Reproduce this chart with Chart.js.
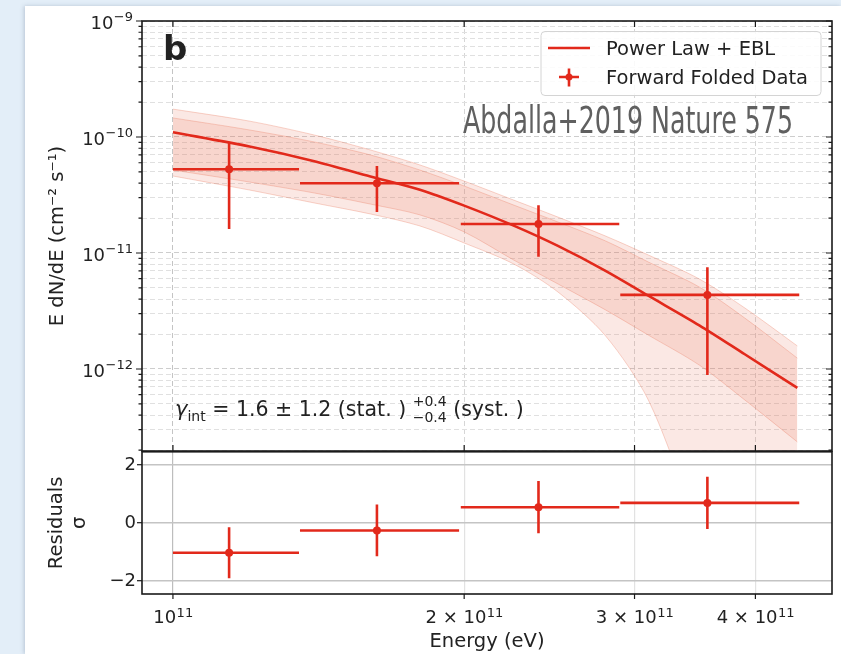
<!DOCTYPE html>
<html>
<head>
<meta charset="utf-8">
<script src="https://cdn.jsdelivr.net/npm/chart.js@4.4.1/dist/chart.umd.min.js"></script>
<style>
html,body{margin:0;padding:0;}
body{width:841px;height:654px;background:#e3eef8;position:relative;overflow:hidden;}
.card{position:absolute;left:25px;top:6px;right:0;bottom:0;background:#fff;box-shadow:-1px 0 4px rgba(60,80,110,0.25);}
#top{position:absolute;left:0;top:0;}
#bot{position:absolute;left:0;top:440px;}
</style>
</head>
<body>
<div class="card"></div>
<canvas id="top" width="841" height="460"></canvas>
<canvas id="bot" width="841" height="214"></canvas>
<script>
Chart.defaults.font.family = "'DejaVu Sans', sans-serif";
Chart.defaults.color = '#222';

// forward folded data (energy bins in eV, E dN/dE in cm^-2 s^-1)
const eMid   = [1.143e11, 1.625e11, 2.387e11, 3.568e11];
const eLo    = [1.000e11, 1.353e11, 1.984e11, 2.900e11];
const eHi    = [1.350e11, 1.976e11, 2.893e11, 4.440e11];
const flux   = [5.27e-11, 3.99e-11, 1.78e-11, 4.35e-12];
const fluxUp = [8.87e-11, 5.62e-11, 2.58e-11, 7.53e-12];
const fluxDn = [1.61e-11, 2.26e-11, 9.30e-12, 8.87e-13];
const resid    = [-1.03, -0.26, 0.54, 0.69];
const residErr = [0.88, 0.89, 0.90, 0.90];

// power law + EBL model and its bands
const modelE = [1.0e11, 1.2e11, 1.4e11, 1.6e11, 1.8e11, 2.0e11, 2.25e11, 2.5e11, 2.8e11, 3.1e11, 3.5e11, 3.9e11, 4.42e11];
const modelF = [1.10e-10, 8.28e-11, 6.19e-11, 4.57e-11, 3.51e-11, 2.56e-11, 1.72e-11, 1.15e-11, 7.02e-12, 4.28e-12, 2.38e-12, 1.34e-12, 6.86e-13];
const statUp = [1.46e-10, 1.15e-10, 9.06e-11, 7.0e-11, 5.19e-11, 3.78e-11, 2.59e-11, 1.85e-11, 1.27e-11, 8.36e-12, 5.09e-12, 2.75e-12, 1.24e-12];
const statDn = [5.19e-11, 4.09e-11, 3.29e-11, 2.64e-11, 2.13e-11, 1.52e-11, 8.70e-12, 5.41e-12, 3.23e-12, 1.96e-12, 1.08e-12, 5.41e-13, 2.35e-13];
const systUp = [1.74e-10, 1.37e-10, 1.04e-10, 7.73e-11, 5.74e-11, 4.17e-11, 2.86e-11, 2.04e-11, 1.40e-11, 9.61e-12, 5.97e-12, 3.36e-12, 1.58e-12];
const systDn = [4.61e-11, 3.49e-11, 2.70e-11, 2.17e-11, 1.71e-11, 1.22e-11, 8.04e-12, 4.61e-12, 1.93e-12, 5.41e-13, 4.5e-14, 1.0e-14, 3.0e-15];

// axes
const xTicks = [1e11, 2e11, 3e11, 4e11];
const xTickPre = ['', '2 × ', '3 × ', '4 × '];
const xTickExp = ['11', '11', '11', '11'];
const yDecades = [1e-13, 1e-12, 1e-11, 1e-10, 1e-9];
const yLabelVals = [1e-12, 1e-11, 1e-10, 1e-9];
const yLabelExp = ['−12', '−11', '−10', '−9'];
const residTicks = [-2, 0, 2];

const xMin = 9.29e10, xMax = 4.80e11;
const yMin = 1.963e-13, yMax = 1e-9;
const rMin = -2.45, rMax = 2.45;

const RED = '#e2291b';
const BAND = 'rgba(232,112,84,0.16)';
const BAND_EDGE = 'rgba(232,112,84,0.30)';
const FONT = s => s + "px 'DejaVu Sans'";

const pts = (xs, ys) => xs.map((v, i) => ({x: v, y: ys[i]}));
const isDecade = v => Math.abs(Math.log10(v) - Math.round(Math.log10(v))) < 1e-6;

const yGridTicks = [];
yDecades.forEach(d => {
  for (let m = 1; m < 10; m++) {
    const v = d * m;
    if (v >= yMin && v <= yMax * 1.0001) yGridTicks.push(v);
  }
});

// error bars from dataset.err
const errBars = {
  id: 'errBars',
  afterDatasetsDraw(chart) {
    const {ctx, chartArea: a, scales: {x, y}} = chart;
    ctx.save();
    ctx.beginPath();
    ctx.rect(a.left, a.top, a.right - a.left, a.bottom - a.top);
    ctx.clip();
    chart.data.datasets.forEach(ds => {
      if (!ds.err) return;
      ctx.strokeStyle = ds.borderColor;
      ctx.lineWidth = 2.6;
      ctx.beginPath();
      ds.data.forEach((p, i) => {
        const px = x.getPixelForValue(p.x), py = y.getPixelForValue(p.y);
        ctx.moveTo(x.getPixelForValue(ds.err.xl[i]), py);
        ctx.lineTo(x.getPixelForValue(ds.err.xh[i]), py);
        ctx.moveTo(px, y.getPixelForValue(ds.err.yl[i]));
        ctx.lineTo(px, y.getPixelForValue(ds.err.yh[i]));
      });
      ctx.stroke();
    });
    ctx.restore();
  }
};

// frame, ticks, log labels, legend and notes for the spectrum panel
const topDeco = {
  id: 'topDeco',
  afterDraw(chart) {
    const {ctx, chartArea: a, scales: {x, y}} = chart;
    ctx.save();
    ctx.strokeStyle = '#1a1a1a';
    ctx.lineWidth = 1.2;
    ctx.beginPath();
    yGridTicks.forEach(v => {
      const py = y.getPixelForValue(v);
      const L = isDecade(v) ? 6 : 3.5;
      ctx.moveTo(a.left - L, py); ctx.lineTo(a.left, py);
      ctx.moveTo(a.right - L, py); ctx.lineTo(a.right, py);
    });
    xTicks.forEach(v => {
      const px = x.getPixelForValue(v);
      ctx.moveTo(px, a.top); ctx.lineTo(px, a.top + 6);
      ctx.moveTo(px, a.bottom); ctx.lineTo(px, a.bottom - 6);
    });
    ctx.stroke();
    ctx.lineWidth = 1.6;
    ctx.strokeRect(a.left, a.top, a.right - a.left, a.bottom - a.top);

    // y tick labels 10^n
    ctx.fillStyle = '#222';
    ctx.textAlign = 'right';
    ctx.textBaseline = 'alphabetic';
    yLabelVals.forEach((v, i) => {
      const py = y.getPixelForValue(v);
      const xr = a.left - 9;
      ctx.font = FONT(13);
      const we = ctx.measureText(yLabelExp[i]).width;
      ctx.fillText(yLabelExp[i], xr, py);
      ctx.font = FONT(18);
      ctx.fillText('10', xr - we - 0.5, py + 8.2);
    });

    // panel letter
    ctx.textAlign = 'left';
    ctx.font = "bold 34px 'DejaVu Sans'";
    ctx.fillText('b', a.left + 21, a.top + 39);

    // legend
    const lx = a.right - 291, ly = a.top + 10.5;
    ctx.beginPath();
    if (ctx.roundRect) ctx.roundRect(lx, ly, 280, 64, 4); else ctx.rect(lx, ly, 280, 64);
    ctx.fillStyle = 'rgba(255,255,255,0.85)';
    ctx.fill();
    ctx.strokeStyle = '#d4d4d4';
    ctx.lineWidth = 1;
    ctx.stroke();
    ctx.strokeStyle = RED;
    ctx.lineWidth = 2.6;
    ctx.beginPath();
    ctx.moveTo(lx + 7, ly + 16.5); ctx.lineTo(lx + 49, ly + 16.5);
    ctx.moveTo(lx + 18, ly + 45.5); ctx.lineTo(lx + 38, ly + 45.5);
    ctx.moveTo(lx + 28, ly + 37); ctx.lineTo(lx + 28, ly + 55);
    ctx.stroke();
    ctx.fillStyle = RED;
    ctx.beginPath(); ctx.arc(lx + 28, ly + 45.5, 3.5, 0, Math.PI * 2); ctx.fill();
    ctx.fillStyle = '#222';
    ctx.font = FONT(19.5);
    ctx.fillText(chart.data.datasets[0].label, lx + 65, ly + 23);
    ctx.fillText(chart.data.datasets[1].label, lx + 65, ly + 52);

    // citation note
    const note = 'Abdalla+2019 Nature 575';
    ctx.font = "37px 'Liberation Sans Narrow', 'DejaVu Sans Condensed', sans-serif";
    const tw = ctx.measureText(note).width;
    ctx.save();
    ctx.translate(463, 133);
    ctx.scale(330 / tw, 1);
    ctx.fillStyle = '#606060';
    ctx.fillText(note, 0, 0);
    ctx.restore();

    // spectral index
    let cx = a.left + 33;
    const by = 416;
    ctx.fillStyle = '#222';
    const seg = (t, font, dy) => { ctx.font = font; ctx.fillText(t, cx, by + dy); cx += ctx.measureText(t).width; };
    seg('γ', "italic 21px 'DejaVu Sans'", 0);
    seg('int', FONT(14), 4.5);
    seg(' = 1.6 ± 1.2 (stat. ) ', FONT(20.5), 0);
    ctx.font = FONT(14);
    const w1 = ctx.measureText('−0.4').width;
    ctx.fillText('+0.4', cx, by - 10);
    ctx.fillText('−0.4', cx, by + 5.5);
    cx += w1;
    seg(' (syst. )', FONT(20.5), 0);
    ctx.restore();
  }
};

// frame, ticks and x labels for the residual panel
const botDeco = {
  id: 'botDeco',
  afterDraw(chart) {
    const {ctx, chartArea: a, scales: {x}} = chart;
    ctx.save();
    ctx.strokeStyle = '#1a1a1a';
    ctx.lineWidth = 1.2;
    ctx.beginPath();
    xTicks.forEach(v => {
      const px = x.getPixelForValue(v);
      ctx.moveTo(px, a.bottom); ctx.lineTo(px, a.bottom + 5);
    });
    ctx.stroke();
    ctx.lineWidth = 1.6;
    ctx.strokeRect(a.left, a.top, a.right - a.left, a.bottom - a.top);

    ctx.fillStyle = '#222';
    ctx.textAlign = 'left';
    ctx.textBaseline = 'alphabetic';
    xTicks.forEach((v, i) => {
      const px = x.getPixelForValue(v);
      const base = xTickPre[i] + '10';
      ctx.font = FONT(18);
      const wb = ctx.measureText(base).width;
      ctx.font = FONT(13);
      const we = ctx.measureText(xTickExp[i]).width;
      const x0 = px - (wb + we) / 2;
      ctx.font = FONT(18);
      ctx.fillText(base, x0, a.bottom + 29);
      ctx.font = FONT(13);
      ctx.fillText(xTickExp[i], x0 + wb + 0.5, a.bottom + 22.5);
    });
    ctx.restore();
  }
};

const bandLine = {borderColor: BAND_EDGE, borderWidth: 1, pointRadius: 0, tension: 0.3};

new Chart(document.getElementById('top'), {
  type: 'line',
  data: {
    datasets: [
      {label: 'Power Law + EBL', data: pts(modelE, modelF), borderColor: RED, borderWidth: 2.6,
       pointRadius: 0, fill: false, tension: 0.3},
      {label: 'Forward Folded Data', type: 'scatter', data: pts(eMid, flux), borderColor: RED,
       backgroundColor: RED, pointRadius: 4, pointBorderWidth: 0,
       err: {xl: eLo, xh: eHi, yl: fluxDn, yh: fluxUp}},
      {label: 'stat up', data: pts(modelE, statUp), backgroundColor: BAND, fill: '+1', ...bandLine},
      {label: 'stat down', data: pts(modelE, statDn), fill: false, ...bandLine},
      {label: 'syst up', data: pts(modelE, systUp), backgroundColor: BAND, fill: '+1', ...bandLine},
      {label: 'syst down', data: pts(modelE, systDn), fill: false, ...bandLine}
    ]
  },
  options: {
    responsive: false, animation: false,
    layout: {padding: {left: 0, right: 9, top: 21, bottom: 9}},
    plugins: {legend: {display: false}, tooltip: {enabled: false}},
    scales: {
      x: {
        type: 'logarithmic', min: xMin, max: xMax,
        afterBuildTicks: s => { s.ticks = xTicks.map(v => ({value: v})); },
        ticks: {display: false},
        grid: {color: c => c.tick && c.tick.value === 1e11 ? '#c4c4c4' : '#d6d6d6', lineWidth: 1, drawTicks: false},
        border: {display: false, dash: [5, 3]}
      },
      y: {
        type: 'logarithmic', min: yMin, max: yMax,
        afterBuildTicks: s => { s.ticks = yGridTicks.map(v => ({value: v})); },
        afterFit: s => { s.width = 142; },
        ticks: {display: false},
        grid: {color: c => c.tick && isDecade(c.tick.value) ? '#cdcdcd' : '#e0e0e0', lineWidth: 1, drawTicks: false},
        border: {display: false, dash: [5, 3]},
        title: {display: true, text: 'E dN/dE (cm⁻² s⁻¹)', font: {size: 19.5}, color: '#222', padding: {top: 46, bottom: 0}}
      }
    }
  },
  plugins: [errBars, topDeco]
});

new Chart(document.getElementById('bot'), {
  type: 'scatter',
  data: {
    datasets: [{
      label: 'Residuals', data: pts(eMid, resid), borderColor: RED, backgroundColor: RED,
      pointRadius: 4, pointBorderWidth: 0,
      err: {xl: eLo, xh: eHi,
            yl: resid.map((r, i) => r - residErr[i]), yh: resid.map((r, i) => r + residErr[i])}
    }]
  },
  options: {
    responsive: false, animation: false,
    layout: {padding: {left: 0, right: 9, top: 11, bottom: 0}},
    plugins: {legend: {display: false}, tooltip: {enabled: false}},
    scales: {
      x: {
        type: 'logarithmic', min: xMin, max: xMax,
        afterBuildTicks: s => { s.ticks = xTicks.map(v => ({value: v})); },
        afterFit: s => { s.height = 60; },
        ticks: {display: false},
        grid: {color: c => c.tick && c.tick.value === 1e11 ? '#bdbdbd' : '#e2e2e2', lineWidth: 1.2, drawTicks: false},
        border: {display: false},
        title: {display: true, text: 'Energy (eV)', font: {size: 19.5}, color: '#222', padding: {top: 0, bottom: 0}}
      },
      y: {
        min: rMin, max: rMax,
        afterBuildTicks: s => { s.ticks = residTicks.map(v => ({value: v})); },
        afterFit: s => { s.width = 142; },
        ticks: {font: {size: 18}, color: '#222', padding: 1,
                callback: v => v < 0 ? '−' + Math.abs(v) : String(v)},
        grid: {color: '#c4c4c4', lineWidth: 1.4, tickLength: 5, tickColor: '#1a1a1a', tickWidth: 1.2},
        border: {display: false},
        title: {display: true, text: ['Residuals', 'σ'], font: {size: 19.5}, color: '#222', padding: {top: 45, bottom: 0}}
      }
    }
  },
  plugins: [errBars, botDeco]
});
</script>
</body>
</html>
